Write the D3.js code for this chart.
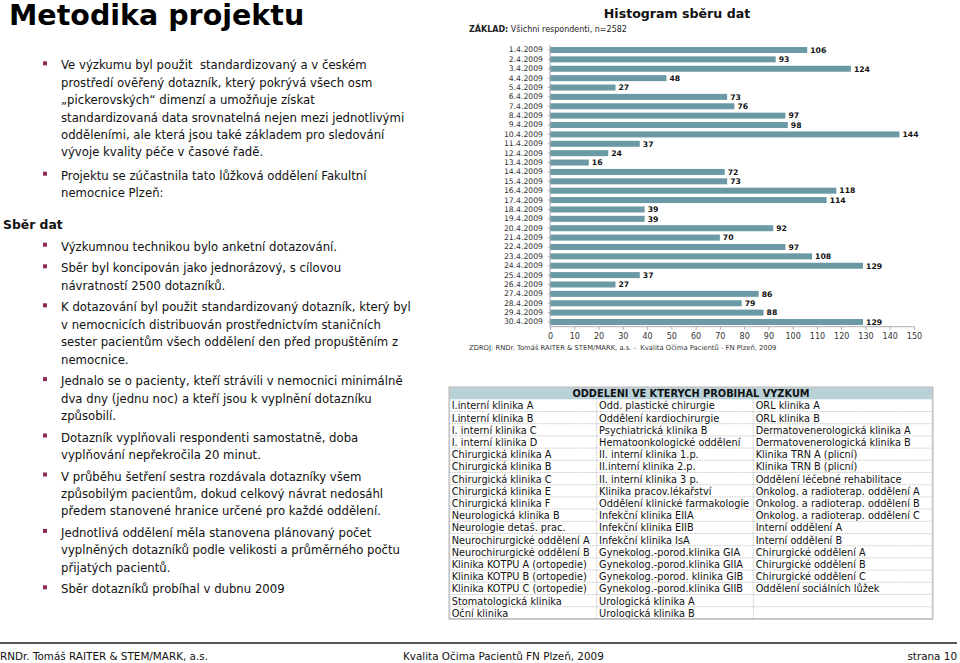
<!DOCTYPE html>
<html><head><meta charset="utf-8">
<script src="https://cdn.jsdelivr.net/npm/d3@7/dist/d3.min.js"></script>
<style>
body{margin:0;background:#fff}
svg{display:block}
text{font-family:"DejaVu Sans",Verdana,sans-serif}
</style>
</head><body>
<svg id="s" width="960" height="663"></svg>
<script>
// ---------- data ----------
const dates = ["1.4.2009","2.4.2009","3.4.2009","4.4.2009","5.4.2009","6.4.2009","7.4.2009","8.4.2009","9.4.2009","10.4.2009",
  "11.4.2009","12.4.2009","13.4.2009","14.4.2009","15.4.2009","16.4.2009","17.4.2009","18.4.2009","19.4.2009","20.4.2009",
  "21.4.2009","22.4.2009","23.4.2009","24.4.2009","25.4.2009","26.4.2009","27.4.2009","28.4.2009","29.4.2009","30.4.2009"];
const counts = [106,93,124,48,27,73,76,97,98,144,37,24,16,72,73,118,114,39,39,92,70,97,108,129,37,27,86,79,88,129];
const xTicks = [0,10,20,30,40,50,60,70,80,90,100,110,120,130,140,150];

const slideTitle = "Metodika projektu";
const chartTitle = "Histogram sběru dat";
const baseLabel = "ZÁKLAD:";
const baseText = " Všichni respondenti, n=2582";
const sourceText = "ZDROJ: RNDr. Tomáš RAITER & STEM/MARK, a.s. -  Kvalita Očima Pacientů - FN Plzeň, 2009";
const sectionTitle = "Sběr dat";

const tableHeader = "ODDELENI VE KTERYCH PROBIHAL VYZKUM";
const col1 = ["I.interní klinika A","I.interní klinika B","I. interní klinika C","I. interní klinika D","Chirurgická klinika A",
  "Chirurgická klinika B","Chirurgická klinika C","Chirurgická klinika E","Chirurgická klinika F","Neurologická klinika B",
  "Neurologie detaš. prac.","Neurochirurgické oddělení A","Neurochirurgické oddělení B","Klinika KOTPU A (ortopedie)",
  "Klinika KOTPU B (ortopedie)","Klinika KOTPU C (ortopedie)","Stomatologická klinika","Oční klinika"];
const col2 = ["Odd. plastické chirurgie","Oddělení kardiochirurgie","Psychiatrická klinika B","Hematoonkologické oddělení",
  "II. interní klinika 1.p.","II.interní klinika 2.p.","II. interní klinika 3 p.","Klinika pracov.lékařství",
  "Oddělení klinické farmakologie","Infekční klinika EIIA","Infekční klinika EIIB","Infekční klinika IsA",
  "Gynekolog.-porod.klinika GIA","Gynekolog.-porod.klinika GIIA","Gynekolog.-porod. klinika GIB","Gynekolog.-porod.klinika GIIB",
  "Urologická klinika A","Urologická klinika B"];
const col3 = ["ORL klinika A","ORL klinika B","Dermatovenerologická klinika A","Dermatovenerologická klinika B",
  "Klinika TRN A (plicní)","Klinika TRN B (plicní)","Oddělení léčebné rehabilitace","Onkolog. a radioterap. oddělení A",
  "Onkolog. a radioterap. oddělení B","Onkolog. a radioterap. oddělení C","Interní oddělení A","Interní oddělení B",
  "Chirurgické oddělení A","Chirurgické oddělení B","Chirurgické oddělení C","Oddělení sociálních lůžek","",""];

const bullets1 = [
  ["Ve výzkumu byl použit  standardizovaný a v českém","prostředí ověřený dotazník, který pokrývá všech osm",
   "„pickerovských“ dimenzí a umožňuje získat","standardizovaná data srovnatelná nejen mezi jednotlivými",
   "odděleními, ale která jsou také základem pro sledování","vývoje kvality péče v časové řadě."],
  ["Projektu se zúčastnila tato lůžková oddělení Fakultní","nemocnice Plzeň:"]
];
const bullets2 = [
  ["Výzkumnou technikou bylo anketní dotazování."],
  ["Sběr byl koncipován jako jednorázový, s cílovou","návratností 2500 dotazníků."],
  ["K dotazování byl použit standardizovaný dotazník, který byl","v nemocnicích distribuován prostřednictvím staničních",
   "sester pacientům všech oddělení den před propuštěním z","nemocnice."],
  ["Jednalo se o pacienty, kteří strávili v nemocnici minimálně","dva dny (jednu noc) a kteří jsou k vyplnění dotazníku","způsobilí."],
  ["Dotazník vyplňovali respondenti samostatně, doba","vyplňování nepřekročila 20 minut."],
  ["V průběhu šetření sestra rozdávala dotazníky všem","způsobilým pacientům, dokud celkový návrat nedosáhl",
   "předem stanovené hranice určené pro každé oddělení."],
  ["Jednotlivá oddělení měla stanovena plánovaný počet","vyplněných dotazníků podle velikosti a průměrného počtu","přijatých pacientů."],
  ["Sběr dotazníků probíhal v dubnu 2009"]
];
const footerLeft = "RNDr. Tomáš RAITER & STEM/MARK, a.s.";
const footerMid = "Kvalita Očima Pacientů FN Plzeň, 2009";
const footerRight = "strana 10";

// ---------- drawing ----------
const svg = d3.select("#s");

svg.append("text").attr("x", 9).attr("y", 25).attr("font-size", 28.5).attr("font-weight", "bold")
  .attr("fill", "#000").text(slideTitle);

// bullet paragraphs
function drawBullets(paras, startY, lineH, paraGap) {
  let y = startY;
  paras.forEach((lines, pi) => {
    if (pi > 0) y += paraGap;
    svg.append("rect").attr("x", 43).attr("y", y - 8).attr("width", 4).attr("height", 4).attr("fill", "#8c2a55");
    lines.forEach((ln, li) => {
      if (li > 0) y += lineH;
      svg.append("text").attr("x", 61).attr("y", y).attr("font-size", 11.7).attr("fill", "#111")
        .attr("xml:space", "preserve").style("white-space", "pre").text(ln);
    });
  });
}
drawBullets(bullets1, 69.3, 17.4, 23.4);
svg.append("text").attr("x", 3).attr("y", 229).attr("font-size", 12.4).attr("font-weight", "bold")
  .attr("fill", "#111").text(sectionTitle);
drawBullets(bullets2, 250.7, 17.4, 21.6);

// chart titles
svg.append("text").attr("x", 677).attr("y", 18).attr("text-anchor", "middle").attr("font-size", 12.6)
  .attr("font-weight", "bold").attr("fill", "#111").text(chartTitle);
const zt = svg.append("text").attr("x", 469).attr("y", 32).attr("font-size", 8).attr("fill", "#222")
  .style("white-space", "pre");
zt.append("tspan").attr("font-weight", "bold").text(baseLabel);
zt.append("tspan").text(baseText);

// bar chart
const x = d3.scaleLinear().domain([0, 150]).range([550, 914]);
const y = d3.scaleBand().domain(dates).range([45.3, 326.7]).paddingInner(0.36).paddingOuter(0.18);

svg.append("g").selectAll("rect").data(dates).join("rect")
  .attr("x", x(0)).attr("y", d => y(d))
  .attr("width", (d, i) => x(counts[i]) - x(0)).attr("height", y.bandwidth())
  .attr("fill", "#6b9aa6");

svg.append("g").selectAll("text").data(dates).join("text")
  .attr("x", (d, i) => x(counts[i]) + 3).attr("y", d => y(d) + y.bandwidth() / 2)
  .attr("dy", "0.36em").attr("font-size", 7.7).attr("font-weight", "bold").attr("fill", "#111")
  .text((d, i) => counts[i]);

const yAxis = svg.append("g").attr("transform", `translate(${x(0)},0)`)
  .call(d3.axisLeft(y).tickSize(2).tickPadding(5));
yAxis.selectAll("text").attr("font-size", 7.7).attr("fill", "#333").style("font-family", '"DejaVu Sans",Verdana,sans-serif');
yAxis.selectAll("line").attr("stroke", "#aaa");
yAxis.select(".domain").attr("stroke", "#aaa").attr("d", "M0,45V326.7");

const xAxis = svg.append("g").attr("transform", "translate(0,326.7)")
  .call(d3.axisBottom(x).tickValues(xTicks).tickSize(3).tickPadding(4));
xAxis.selectAll("text").attr("font-size", 8).attr("fill", "#333").style("font-family", '"DejaVu Sans",Verdana,sans-serif');
xAxis.selectAll("line").attr("stroke", "#aaa");
xAxis.select(".domain").attr("stroke", "#aaa").attr("d", "M550,0H914");

svg.append("text").attr("x", 469).attr("y", 350).attr("font-size", 6.8).attr("fill", "#333")
  .style("white-space", "pre").text(sourceText);

// table
const tx = [449.3, 596.7, 753.3, 932.7];
const tTop = 387.3, hH = 12, rH = 12.2;
const rows = col1.map((c, i) => [c, col2[i], col3[i]]);
const tBottom = tTop + hH + rows.length * rH;
const tg = svg.append("g");
tg.append("rect").attr("x", tx[0]).attr("y", tTop).attr("width", tx[3] - tx[0]).attr("height", hH).attr("fill", "#b9d2da");
tg.append("text").attr("x", (tx[0] + tx[3]) / 2).attr("y", tTop + 9.6).attr("text-anchor", "middle")
  .attr("font-size", 9.8).attr("font-weight", "bold").attr("fill", "#111").text(tableHeader);
rows.forEach((r, i) => {
  const top = tTop + hH + i * rH;
  tg.append("line").attr("x1", tx[0]).attr("x2", tx[3]).attr("y1", top + rH).attr("y2", top + rH)
    .attr("stroke", "#bbb").attr("stroke-width", 0.8).attr("stroke-dasharray", "1.5,1");
  r.forEach((t, j) => {
    tg.append("text").attr("x", tx[j] + 2.4).attr("y", top + 10).attr("font-size", 9.75).attr("fill", "#111").text(t);
  });
});
[1, 2].forEach(j => {
  tg.append("line").attr("x1", tx[j]).attr("x2", tx[j]).attr("y1", tTop + hH).attr("y2", tBottom)
    .attr("stroke", "#bbb").attr("stroke-width", 0.8).attr("stroke-dasharray", "1.5,1");
});
tg.append("rect").attr("x", tx[0]).attr("y", tTop).attr("width", tx[3] - tx[0]).attr("height", tBottom - tTop)
  .attr("fill", "none").attr("stroke", "#c4c4c4").attr("stroke-width", 1.8);

// footer
svg.append("rect").attr("x", 0).attr("y", 642).attr("width", 957).attr("height", 2).attr("fill", "#555");
svg.append("text").attr("x", 0).attr("y", 660).attr("font-size", 10.4).attr("fill", "#111").text(footerLeft);
svg.append("text").attr("x", 403).attr("y", 660).attr("font-size", 10.4).attr("fill", "#111").text(footerMid);
svg.append("text").attr("x", 957).attr("y", 660).attr("text-anchor", "end").attr("font-size", 10.4).attr("fill", "#111").text(footerRight);
</script>
</body></html>
